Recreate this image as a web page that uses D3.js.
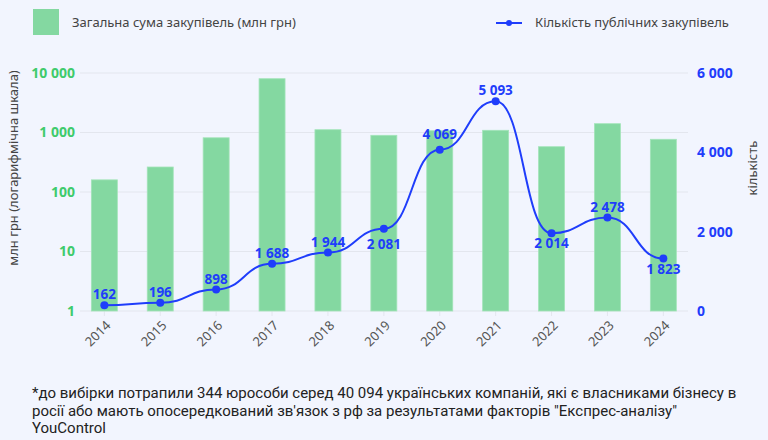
<!DOCTYPE html>
<html>
<head>
<meta charset="utf-8">
<script src="https://cdn.jsdelivr.net/npm/d3@7"></script>
<style>
  body { margin: 0; background: #f2f5fe; }
  svg { display: block; }
</style>
</head>
<body>
<svg id="chart" width="768" height="440"></svg>
<script>
// data
const years = ['2014', '2015', '2016', '2017', '2018', '2019', '2020', '2021', '2022', '2023', '2024']
const sumMln = [160, 263, 815, 8020, 1114, 897, 1070, 1089, 577, 1406, 769]
// where the points sit on the right axis
const counts = [146, 207, 542, 1189, 1474, 2071, 4068, 5285, 1960, 2355, 1322]
// what the point labels say
const countLabels = ['162', '196', '898', '1 688', '1 944', '2 081', '4 069', '5 093', '2 014', '2 478', '1 823']
const labelSide = ['up', 'up', 'up', 'up', 'up', 'down2', 'up2', 'up', 'down', 'up', 'down']
const leftTicks = [1, 10, 100, 1000, 10000]
const rightTicks = [0, 2000, 4000, 6000]
const footnote = [
    '*до вибірки потрапили 344 юрособи серед 40 094 українських компаній, які є власниками бізнесу в',
    'росії або мають опосередкований зв\'язок з рф за результатами факторів "Експрес-аналізу"',
    'YouControl'
]

const green = '#84d8a1',
      greenText = '#3fcb6c',
      blue = '#1f3dfb',
      grid = '#e3e6ee',
      font = '"Noto Sans", "Open Sans", sans-serif'

let plot = {left: 80, right: 688, top: 73, bottom: 311}

const fmt = (v) => d3.format(',')(v).replace(/,/g, ' ')

let svg = d3.select('#chart')

let x = d3.scaleBand()
    .domain(years)
    .range([76.4, 691.3])
    .paddingInner(0.535)
    .paddingOuter(0.2675)

let yLog = d3.scaleLog()
    .domain([1, 10000])
    .range([plot.bottom, plot.top])

let yCount = d3.scaleLinear()
    .domain([0, 6000])
    .range([plot.bottom, plot.top])

// grid lines
svg.append('g').selectAll('line')
    .data(leftTicks)
  .enter().append('line')
    .attr('x1', plot.left)
    .attr('x2', plot.right)
    .attr('y1', (d) => yLog(d))
    .attr('y2', (d) => yLog(d))
    .attr('stroke', grid)
    .attr('stroke-width', 1)

// x ticks
svg.append('g').selectAll('line')
    .data(years)
  .enter().append('line')
    .attr('x1', (d) => x(d) + x.bandwidth() / 2)
    .attr('x2', (d) => x(d) + x.bandwidth() / 2)
    .attr('y1', plot.bottom)
    .attr('y2', plot.bottom + 5)
    .attr('stroke', grid)

// bars
svg.append('g').selectAll('rect')
    .data(years)
  .enter().append('rect')
    .attr('x', (d) => x(d))
    .attr('width', x.bandwidth())
    .attr('y', (d, i) => yLog(sumMln[i]))
    .attr('height', (d, i) => yLog(1) - yLog(sumMln[i]))
    .attr('fill', green)
    .attr('stroke', '#a3e4b9')
    .attr('stroke-width', 0.8)

// left tick labels
svg.append('g').selectAll('text')
    .data(leftTicks)
  .enter().append('text')
    .attr('x', 75)
    .attr('y', (d) => yLog(d))
    .attr('dy', '0.35em')
    .attr('text-anchor', 'end')
    .attr('font-family', font)
    .attr('font-weight', 'bold')
    .attr('font-size', 14)
    .attr('fill', greenText)
    .text((d) => fmt(d))

// right tick labels
svg.append('g').selectAll('text')
    .data(rightTicks)
  .enter().append('text')
    .attr('x', 697)
    .attr('y', (d) => yCount(d))
    .attr('dy', '0.35em')
    .attr('text-anchor', 'start')
    .attr('font-family', font)
    .attr('font-weight', 'bold')
    .attr('font-size', 14)
    .attr('fill', blue)
    .text((d) => fmt(d))

// x labels
svg.append('g').selectAll('text')
    .data(years)
  .enter().append('text')
    .attr('transform', (d) => `translate(${x(d) + x.bandwidth() / 2 + 4},${plot.bottom + 12}) rotate(-45)`)
    .attr('text-anchor', 'end')
    .attr('dy', '0.35em')
    .attr('font-family', font)
    .attr('font-size', 13)
    .attr('fill', '#555')
    .text((d) => d)

// axis titles
svg.append('text')
    .attr('transform', 'translate(18,168) rotate(-90)')
    .attr('text-anchor', 'middle')
    .attr('font-family', font)
    .attr('font-size', 13)
    .attr('fill', '#444')
    .text('млн грн (логарифмічна шкала)')

svg.append('text')
    .attr('transform', 'translate(757,168) rotate(-90)')
    .attr('text-anchor', 'middle')
    .attr('font-family', font)
    .attr('font-size', 13)
    .attr('fill', '#444')
    .text('кількість')

// line
let cx = (i) => x(years[i]) + x.bandwidth() / 2
let line = d3.line()
    .x((d, i) => cx(i))
    .y((d) => yCount(d))
    .curve(d3.curveBumpX)

svg.append('path')
    .datum(counts)
    .attr('d', line)
    .attr('fill', 'none')
    .attr('stroke', blue)
    .attr('stroke-width', 2)

svg.append('g').selectAll('circle')
    .data(counts)
  .enter().append('circle')
    .attr('cx', (d, i) => cx(i))
    .attr('cy', (d) => yCount(d))
    .attr('r', 4)
    .attr('fill', blue)

const offs = {up: -6, up2: -11, down: 15, down2: 20}
svg.append('g').selectAll('text')
    .data(counts)
  .enter().append('text')
    .attr('x', (d, i) => cx(i))
    .attr('y', (d, i) => yCount(d) + offs[labelSide[i]])
    .attr('text-anchor', 'middle')
    .attr('font-family', font)
    .attr('font-weight', 'bold')
    .attr('font-size', 13.5)
    .attr('fill', blue)
    .text((d, i) => countLabels[i])

// legend
svg.append('rect')
    .attr('x', 33).attr('y', 9)
    .attr('width', 26).attr('height', 26)
    .attr('fill', green)
svg.append('text')
    .attr('x', 72).attr('y', 22)
    .attr('dy', '0.35em')
    .attr('font-family', font)
    .attr('font-size', 13)
    .attr('fill', '#444')
    .text('Загальна сума закупівель (млн грн)')

svg.append('line')
    .attr('x1', 496).attr('x2', 522)
    .attr('y1', 23).attr('y2', 23)
    .attr('stroke', blue).attr('stroke-width', 2)
svg.append('circle')
    .attr('cx', 509).attr('cy', 23).attr('r', 3)
    .attr('fill', blue)
svg.append('text')
    .attr('x', 535).attr('y', 22)
    .attr('dy', '0.35em')
    .attr('font-family', font)
    .attr('font-size', 13)
    .attr('fill', '#444')
    .text('Кількість публічних закупівель')

// footnote
svg.append('g').selectAll('text')
    .data(footnote)
  .enter().append('text')
    .attr('x', 32)
    .attr('y', (d, i) => 398 + i * 17.5)
    .attr('font-family', 'Roboto, sans-serif')
    .attr('font-size', 15)
    .attr('fill', '#222')
    .text((d) => d)
</script>
</body>
</html>
